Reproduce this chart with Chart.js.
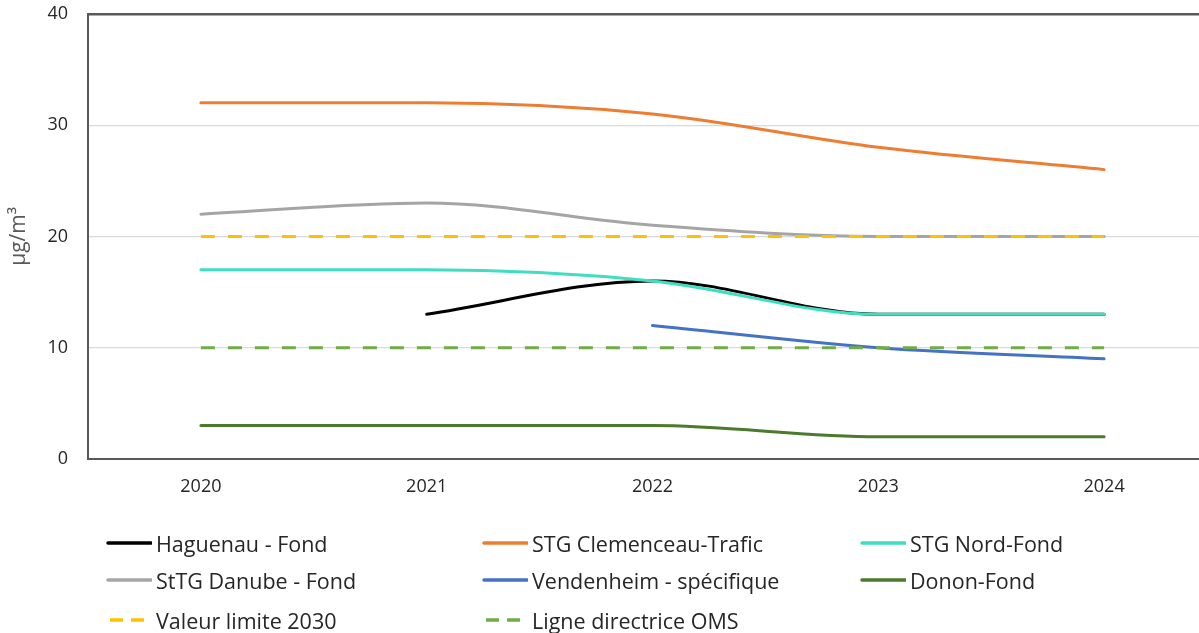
<!DOCTYPE html>
<html><head><meta charset="utf-8">
<script src="https://cdn.jsdelivr.net/npm/chart.js@4"></script>
<style>
html,body{margin:0;padding:0;width:1199px;height:633px;overflow:hidden;background:#fff;font-family:"Open Sans",sans-serif;}
#wrap{position:absolute;left:0;top:-17px;width:1217px;height:529px;}
#legend{position:absolute;left:0;top:0;width:1199px;height:633px;pointer-events:none;}
.li{position:absolute;display:flex;align-items:center;font-size:21.5px;color:#262626;white-space:nowrap;}
.li canvas{margin-right:4px;}
</style></head>
<body>
<div id="wrap"><canvas id="c"></canvas></div>
<div id="legend"></div>
<script>
const categories = ["2020","2021","2022","2023","2024"];
const haguenau   = [null, 13, 16, 13, 13];
const clemenceau = [32, 32, 31, 28, 26];
const nord       = [17, 17, 16, 13, 13];
const danube     = [22, 23, 21, 20, 20];
const vendenheim = [null, null, 12, 10, 9];
const donon      = [3, 3, 3, 2, 2];
const valeur2030 = [20, 20, 20, 20, 20];
const oms        = [10, 10, 10, 10, 10];
const yTicks     = [0, 10, 20, 30, 40];

const series = [
  {label:"Haguenau - Fond", data:haguenau, color:"#000000", dash:[]},
  {label:"STG Clemenceau-Trafic", data:clemenceau, color:"#ED7D31", dash:[]},
  {label:"STG Nord-Fond", data:nord, color:"#3FDDC1", dash:[]},
  {label:"StTG Danube - Fond", data:danube, color:"#A5A5A5", dash:[]},
  {label:"Vendenheim - spécifique", data:vendenheim, color:"#4472C4", dash:[]},
  {label:"Donon-Fond", data:donon, color:"#4B7A2C", dash:[]},
  {label:"Valeur limite 2030", data:valeur2030, color:"#FFC000", dash:[14,13]},
  {label:"Ligne directrice OMS", data:oms, color:"#70AD47", dash:[14,13]}
];

const datasets = series.map((s,i)=>({
  label:s.label, data:s.data, borderColor:s.color, backgroundColor:s.color,
  borderWidth:3, borderDash:s.dash, pointRadius:0, cubicInterpolationMode:'monotone',
  borderCapStyle: s.dash.length? 'butt':'round', spanGaps:false, order: series.length - i, fill:false
}));

new Chart(document.getElementById('c'), {
  type:'line',
  data:{labels:categories, datasets},
  options:{
    responsive:true, maintainAspectRatio:false, animation:false,
    layout:{padding:{top:2,right:0,left:0,bottom:0}},
    plugins:{legend:{display:false}, tooltip:{enabled:false}},
    scales:{
      x:{
        offset:true,
        grid:{display:false, drawTicks:false},
        border:{display:true, color:'#595959', width:2},
        ticks:{color:'#262626', font:{family:'Open Sans', size:18}, padding:17, maxRotation:0},
        afterFit:(s)=>{s.height=53;}
      },
      y:{
        min:0, max:40,
        afterBuildTicks:(s)=>{s.ticks = yTicks.map(v=>({value:v}));},
        grid:{color:(ctx)=> ctx.tick && ctx.tick.value===40 ? '#595959' : (ctx.tick && ctx.tick.value===0 ? 'rgba(0,0,0,0)' : '#D9D9D9'),
              lineWidth:(ctx)=> ctx.tick && ctx.tick.value===40 ? 2.5 : 1.2, drawTicks:false},
        border:{display:true, color:'#595959', width:2},
        ticks:{color:'#262626', font:{family:'Open Sans', size:18}, padding:20},
        title:{display:true, text:'µg/m³', color:'#595959', font:{family:'Open Sans', size:21}, padding:{top:6,bottom:0}},
        afterFit:(s)=>{s.width=88;}
      }
    }
  }
});

const legendPos = [[106,543],[482,543],[860,543],[106,580],[482,580],[860,580],[106,620],[482,620]];
const lg = document.getElementById('legend');
series.forEach((s,i)=>{
  const d = document.createElement('div'); d.className='li';
  d.style.left = legendPos[i][0]+'px'; d.style.top = (legendPos[i][1]-15)+'px'; d.style.height='30px';
  const cv = document.createElement('canvas'); cv.width=46; cv.height=10;
  const g = cv.getContext('2d'); g.strokeStyle=s.color; g.lineWidth=3.5;
  if(s.dash.length){ g.setLineDash([13,8]); g.lineCap='butt'; g.beginPath(); g.moveTo(4,5); g.lineTo(46,5); g.stroke(); }
  else { g.lineCap='round'; g.beginPath(); g.moveTo(2,5); g.lineTo(45,5); g.stroke(); }
  d.appendChild(cv);
  const t = document.createElement('span'); t.textContent=s.label; d.appendChild(t);
  lg.appendChild(d);
});
</script>
</body></html>
